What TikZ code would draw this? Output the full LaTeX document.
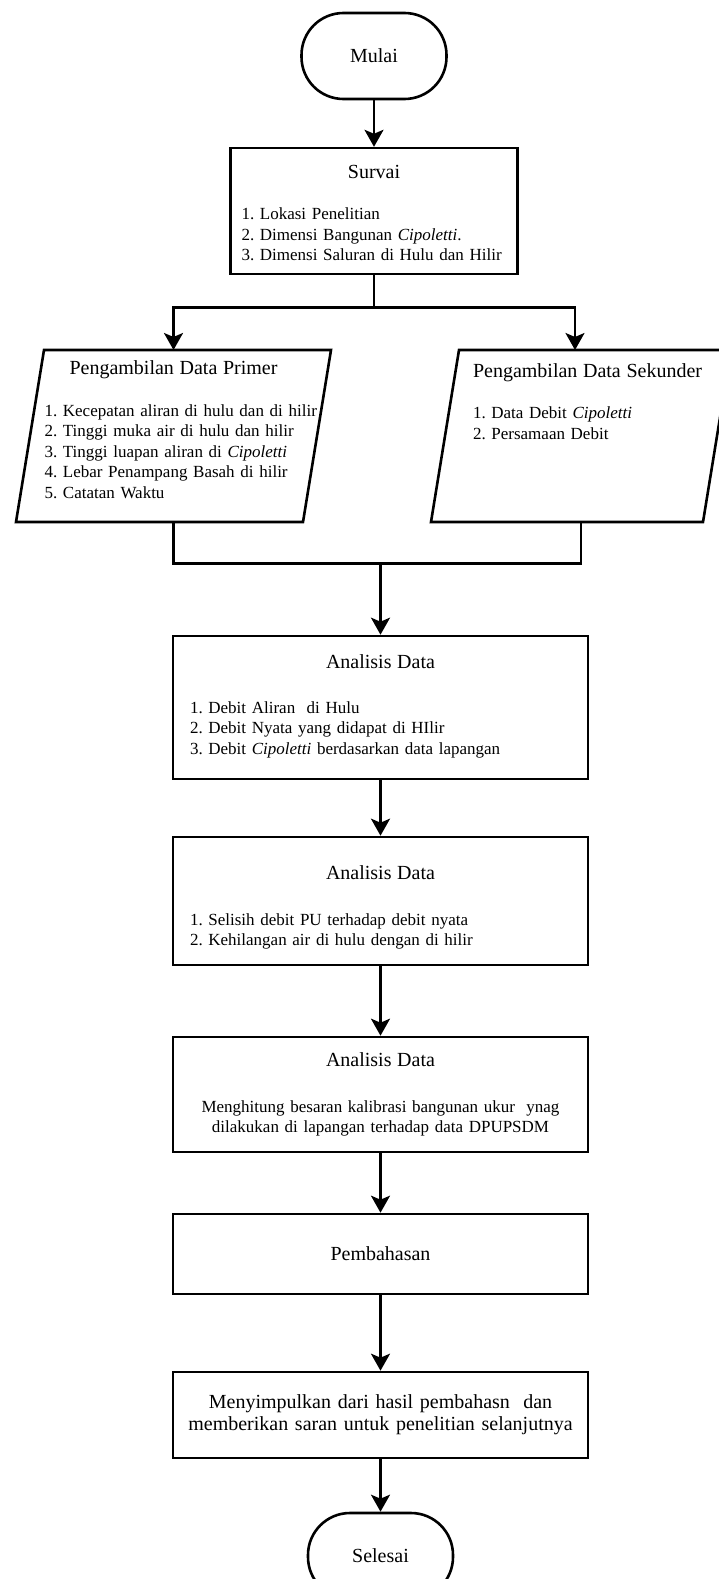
\documentclass[tikz,border=0pt]{standalone}
\usepackage{fontspec}
\setmainfont{Liberation Serif}
\usepackage{tikz}
\usetikzlibrary{arrows.meta,positioning}
\frenchspacing

\newcommand{\judul}{\fontsize{20pt}{24pt}\selectfont}
\newcommand{\isi}{\fontsize{17pt}{20.5pt}\selectfont}

\begin{document}
\begin{tikzpicture}[->,>={Stealth[length=17pt,width=19pt,inset=4pt]},x=1pt,y=1pt,line width=2.6pt]
\tikzstyle{terminal}=[draw,rectangle,rounded corners=42pt,minimum width=145pt,minimum height=86pt,font=\judul]
\tikzstyle{proses}=[draw,rectangle,minimum width=415pt,inner xsep=17pt,inner ysep=0pt,text width=381pt,font=\isi,align=left]
\tikzstyle{datain}=[rectangle,minimum height=172pt,inner sep=0pt,outer sep=0pt,font=\isi,align=left]

\useasboundingbox (0,0) rectangle (718,-1579);

\node[terminal] (mulai) at (374,-56) {Mulai};
\node[proses,minimum width=287pt,text width=265pt,inner xsep=11pt,text height=30pt,text depth=96pt] (survai) [below=46.5pt of mulai]
{{\judul\centering Survai\par}\vspace{21pt}
1. Lokasi Penelitian\\
2. Dimensi Bangunan \textit{Cipoletti}.\\
3. Dimensi Saluran di Hulu dan Hilir};

\node[datain,minimum width=315pt,text width=290pt,text height=24pt,text depth=148pt] (primer) at (173.5,-436)
{\leftskip=16pt {\judul\centering Pengambilan Data Primer\par}\vspace{21.5pt}
1. Kecepatan aliran di hulu dan di hilir\\
2. Tinggi muka air di hulu dan hilir\\
3. Tinggi luapan aliran di \textit{Cipoletti}\\
4. Lebar Penampang Basah di hilir\\
5. Catatan Waktu\par};
\node[datain,minimum width=300pt,text width=246pt,text height=27pt,text depth=145pt] (sekunder) at (581,-436)
{\leftskip=15pt {\judul Pengambilan Data Sekunder\par}\vspace{21pt}
1. Data Debit \textit{Cipoletti}\\
2. Persamaan Debit\par};

\node[proses,text height=32pt,text depth=111pt] (analisis1) at (380.5,-707.5)
{{\judul\centering Analisis Data\par}\vspace{24.5pt}
1. Debit Aliran~ di Hulu\\
2. Debit Nyata yang didapat di HIlir\\
3. Debit \textit{Cipoletti} berdasarkan data lapangan};
\node[proses,text height=42pt,text depth=86pt] (analisis2) [below=55.4pt of analisis1]
{{\judul\centering Analisis Data\par}\vspace{25.5pt}
1. Selisih debit PU terhadap debit nyata\\
2. Kehilangan air di hulu dengan di hilir};
\node[proses,align=center,text height=29pt,text depth=86pt] (analisis3) [below=69.4pt of analisis2]
{{\judul Analisis Data\par}\vspace{25.5pt}
Menghitung besaran kalibrasi bangunan ukur~ ynag\\
dilakukan di lapangan terhadap data DPUPSDM};
\node[proses,align=center,minimum height=80pt,font=\judul] (bahas) [below=59.4pt of analisis3] {Pembahasan};
\node[proses,align=center,minimum height=86pt,text width=400pt,inner xsep=7.5pt,font=\fontsize{20pt}{22pt}\selectfont] (simpul) [below=75.4pt of bahas]
{Menyimpulkan dari hasil pembahasn~ dan\\
memberikan saran untuk penelitian selanjutnya};
\node[terminal] (selesai) [below=52.4pt of simpul] {Selesai};

% jajar genjang input data
\draw[-] ([xshift=28pt]primer.north west) -- (primer.north east) -- ([xshift=-28pt]primer.south east) -- (primer.south west) -- cycle;
\draw[-] ([xshift=28pt]sekunder.north west) -- (sekunder.north east) -- ([xshift=-28pt]sekunder.south east) -- (sekunder.south west) -- cycle;

\coordinate[below=32pt of survai] (cabang);
\coordinate[above=71pt of analisis1] (gabung);

\draw (mulai) -- (survai);
\draw[-] (survai) -- (cabang);
\draw (cabang) -| (primer.north);
\draw (cabang) -| ([xshift=-6pt]sekunder.north);
\draw[-] (primer.south) |- (gabung) -| (sekunder.south);
\draw (gabung) -- (analisis1);
\draw (analisis1) -- (analisis2);
\draw (analisis2) -- (analisis3);
\draw (analisis3) -- (bahas);
\draw (bahas) -- (simpul);
\draw (simpul) -- (selesai);
\end{tikzpicture}
\end{document}
